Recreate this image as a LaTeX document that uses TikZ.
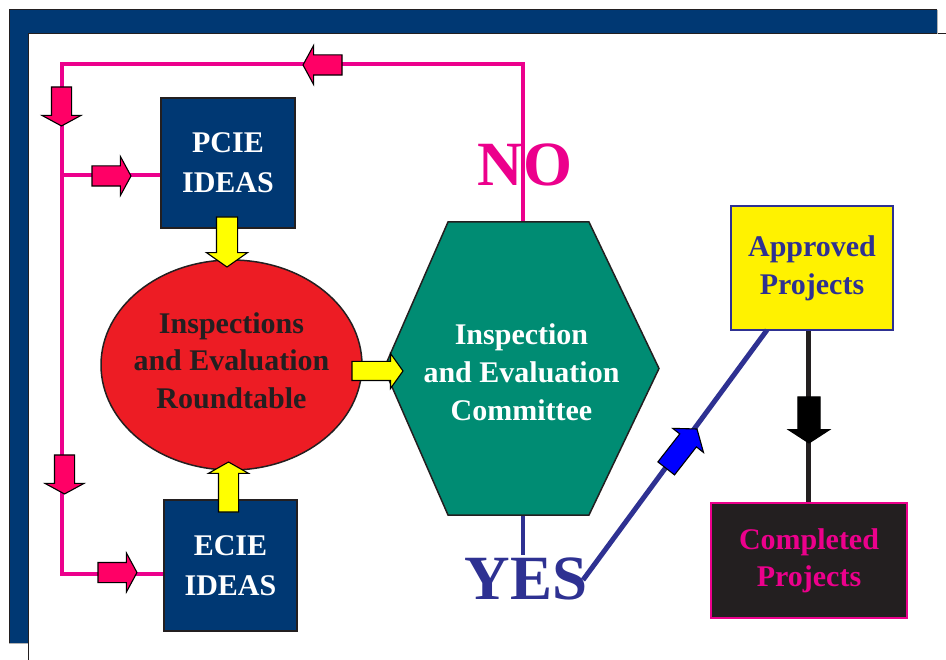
\documentclass[tikz,border=0pt]{standalone}
\usepackage{fontspec}
\setmainfont{Liberation Serif}
\usetikzlibrary{shapes.arrows,shapes.geometric}
\definecolor{frameblue}{RGB}{0,56,115}
\definecolor{darkline}{RGB}{35,31,32}
\definecolor{pinkline}{RGB}{236,0,140}
\definecolor{pinkfill}{RGB}{255,0,102}
\definecolor{ellred}{RGB}{237,28,36}
\definecolor{hexteal}{RGB}{0,140,115}
\definecolor{apyellow}{RGB}{255,242,0}
\definecolor{arryellow}{RGB}{255,255,0}
\definecolor{navyblue}{RGB}{46,49,146}
\definecolor{brightblue}{RGB}{0,0,255}
\tikzset{
  idbox/.style={draw=darkline, line width=1.5pt, fill=frameblue, text=white,
    minimum width=134pt, minimum height=130pt, align=center, inner sep=0pt,
    font=\bfseries\fontsize{30}{40}\selectfont},
  pinkconn/.style={draw=pinkline, line width=4pt},
  blockarr/.style={single arrow, draw=black, line width=1.1pt, inner sep=0pt,
    outer sep=0pt, anchor=tip},
  pinkarr/.style={blockarr, fill=pinkfill, inner ysep=9.5pt,
    single arrow head extend=9.5pt, minimum height=39pt, single arrow tip angle=123},
  yelarr/.style={blockarr, fill=arryellow, inner ysep=10pt,
    single arrow head extend=10pt, minimum height=50pt, single arrow tip angle=112},
  bigtext/.style={font=\bfseries\fontsize{63}{70}\selectfont, anchor=base, inner sep=0pt},
  midtext/.style={align=center, inner sep=0pt, font=\bfseries\fontsize{30}{38}\selectfont}
}
\begin{document}
\begin{tikzpicture}[x=1pt,y=-1pt]
\useasboundingbox (0,0) rectangle (946,660);
% frame
\fill[white] (0,0) rectangle (946,660);
\fill[frameblue] (9,10) -- (937,10) -- (937,34) -- (28,34) -- (28,643) -- (9,643) -- cycle;
\draw[darkline, line width=1pt] (9,643) -- (9,10) -- (937,10);
\draw[darkline, line width=1pt] (28,660) -- (28,34) -- (946,34);
\draw[gray!60, line width=0.8pt] (937,10) -- (937,34) (9,643) -- (28,643);

% named points of the connectors
\coordinate (tl) at (62,64);
\coordinate (pb) at (62,175);
\coordinate (bl) at (62,574);
\coordinate (hextop) at (523,222);
\coordinate (hexbot) at (523,515);
\coordinate (yestop) at (523,555);
\coordinate (yesend) at (583,580);
\coordinate (apin) at (767,330);

% boxes
\node[idbox] (pcie) at (228,163) {PCIE\\IDEAS};
\node[idbox, minimum width=133pt, minimum height=131pt] (ecie) at (230.5,565.5) {ECIE\\IDEAS};
\node[draw=navyblue, line width=2pt, fill=apyellow, text=navyblue,
  minimum width=162pt, minimum height=124pt, inner sep=0pt, align=center,
  font=\bfseries\fontsize{30}{38}\selectfont] (approved) at (812,268) {Approved\\Projects};
\node[draw=pinkline, line width=2.5pt, fill=darkline, text=pinkline,
  minimum width=196pt, minimum height=115pt, inner sep=0pt, align=center,
  font=\bfseries\fontsize{30}{37}\selectfont] (completed) at (809,560.5) {Completed\\Projects};

% connectors
\draw[pinkconn] (hextop) |- (tl) -- (bl) -- (bl -| ecie.west);
\draw[pinkconn] (pb) -- (pb -| pcie.west);
\draw[navyblue, line width=4pt] (hexbot) -- (yestop);
\draw[navyblue, line width=5pt] (yesend) -- (apin);
\draw[darkline, line width=5pt] (completed.north -| 808,0) -- (approved.south -| 808,0);

% committee hexagon
\draw[fill=hexteal, draw=darkline, line width=1.5pt, line join=miter]
  (384,368.5) -- (448,222) -- (589,222) -- (659,368.5) -- (589,515) -- (448,515) -- cycle;
\node[midtext, text=white] (hex) at (521.5,372) {Inspection\\and Evaluation\\Committee};

% roundtable ellipse
\node[ellipse, minimum width=261pt, minimum height=210pt, fill=ellred,
  draw=darkline, line width=1.5pt, inner sep=0pt] (ier) at (231.5,365) {};
\node[midtext, text=darkline, font=\bfseries\fontsize{30}{37.5}\selectfont] (iertext)
  at (231.5,360.5) {Inspections\\and Evaluation\\Roundtable};

\node[bigtext, text=pinkline] (no) at (525,186) {NO};
\node[bigtext, text=navyblue] (yes) at (526,599) {YES};

% block arrows
\node[pinkarr, rotate=180] (pa1) at (303,65) {};
\node[pinkarr, rotate=-90] (pa2) at (61.5,126) {};
\node[pinkarr] (pa3) at (131,176) {};
\node[pinkarr, rotate=-90] (pa4) at (64.5,494) {};
\node[pinkarr] (pa5) at (137,572.5) {};

\node[yelarr, rotate=-90, single arrow tip angle=110] (ya1) at (227,267) {};
\node[yelarr, rotate=90, inner ysep=9.5pt, single arrow head extend=10pt, single arrow tip angle=121] (ya2) at (228.5,462) {};
\node[yelarr, inner ysep=9pt, single arrow head extend=8pt, minimum height=51pt, single arrow tip angle=109] (ya3) at (403,371) {};

\node[blockarr, fill=black, rotate=-90, inner ysep=10.5pt, single arrow head extend=9.5pt,
  minimum height=46pt, single arrow tip angle=114] (ka) at (809,443) {};
\node[blockarr, fill=brightblue, rotate=52, inner ysep=10pt, single arrow head extend=9pt,
  minimum height=50pt, single arrow tip angle=107] (ba) at (697,429) {};
\end{tikzpicture}
\end{document}
